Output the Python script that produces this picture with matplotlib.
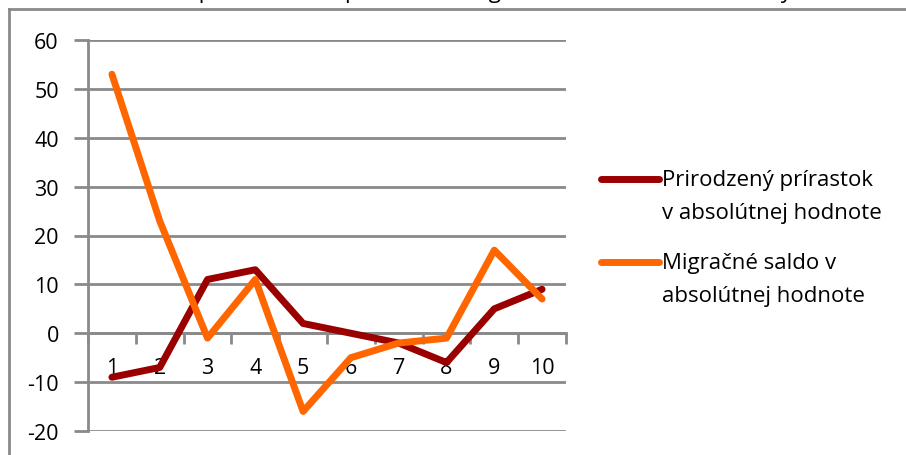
import matplotlib
matplotlib.use('Agg')
import matplotlib.pyplot as plt
from matplotlib.lines import Line2D

# data
years = [1, 2, 3, 4, 5, 6, 7, 8, 9, 10]
prirodzeny = [-9, -7, 11, 13, 2, 0, -2, -6, 5, 9]
migracne = [53, 23, -1, 11, -16, -5, -2, -1, 17, 7]
labels = ['Prirodzený prírastok\nv absolútnej hodnote',
          'Migračné saldo v\nabsolútnej hodnote']
colors = ['#9a0000', '#ff6600']
title = 'Porovnanie prirodzeného prírastku a migračného salda v obci za roky'

plt.rcParams['font.family'] = ['Open Sans', 'DejaVu Sans']
plt.rcParams['axes.unicode_minus'] = False
GRAY = '#8a8a8a'
W, H = 906, 456

fig = plt.figure(figsize=(W / 100, H / 100), dpi=100)
ax = fig.add_axes([88 / W, 1 - 432 / H, (566 - 88) / W, (432 - 41) / H])

for vals, c in zip([prirodzeny, migracne], colors):
    ax.plot(years, vals, color=c, lw=5, solid_joinstyle='round',
            solid_capstyle='round', zorder=3)

ax.set_ylim(-20, 60)
ax.set_xlim(0.5, 10.5)
ax.set_yticks(range(-20, 61, 10))
ax.yaxis.grid(True, color=GRAY, lw=2)
ax.set_axisbelow(True)

# category boundaries as major ticks, labels on the centres
ax.set_xticks([x + 0.5 for x in range(0, 11)])
ax.set_xticklabels([])
ax.set_xticks(years, minor=True)
ax.set_xticklabels([str(y) for y in years], minor=True)
ax.tick_params(axis='x', which='major', length=8, width=2, color=GRAY, direction='out')
ax.tick_params(axis='x', which='minor', length=0, pad=17, labelsize=15.5)
ax.tick_params(axis='y', length=10, width=2, color=GRAY, pad=11, labelsize=15.5)

ax.spines['bottom'].set_position(('data', 0))
ax.spines['bottom'].set_color(GRAY)
ax.spines['bottom'].set_linewidth(2)
ax.spines['left'].set_color(GRAY)
ax.spines['left'].set_linewidth(2)
ax.spines['top'].set_visible(False)
ax.spines['right'].set_visible(False)

# legend like excel: key line level with the first text line
for i, (lab, c) in enumerate(zip(labels, colors)):
    y0 = 180 + i * 83
    fig.add_artist(Line2D([601 / W, 659 / W], [1 - y0 / H] * 2, color=c, lw=5,
                          solid_capstyle='round'))
    for j, part in enumerate(lab.split('\n')):
        fig.text(662 / W, 1 - (y0 + 1 + j * 33) / H, part, fontsize=16,
                 va='center', ha='left')

# outer chart frame, clipped by the picture edges
fig.add_artist(Line2D([9 / W, 9 / W], [-0.1, 1 - 10 / H], color=GRAY, lw=2))
fig.add_artist(Line2D([9 / W, 1.1], [1 - 10 / H, 1 - 10 / H], color=GRAY, lw=2))

# title cut off at top of the picture
fig.text(75 / W, 1 + 2 / H, title, fontsize=16, va='baseline', ha='left')

fig.savefig('out.png', dpi=100)
